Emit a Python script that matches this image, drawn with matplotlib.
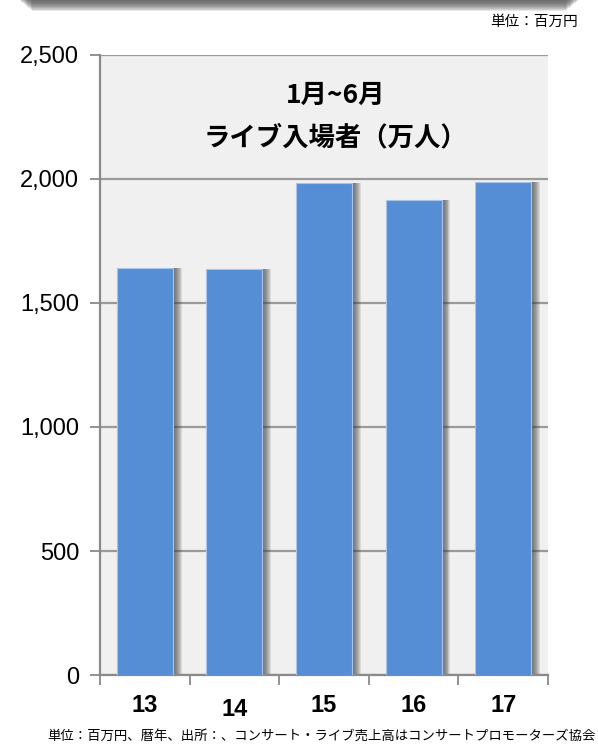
import matplotlib
matplotlib.use("Agg")
import matplotlib.pyplot as plt
import numpy as np
from matplotlib.patches import Rectangle
from matplotlib.transforms import ScaledTranslation

plt.rcParams['font.family'] = ['Liberation Sans', 'Noto Sans CJK JP', 'DejaVu Sans']

categories = ["13", "14", "15", "16", "17"]
values = [1640, 1638, 1985, 1915, 1987]
yticks = [0, 500, 1000, 1500, 2000, 2500]
ytick_labels = ["0", "500", "1,000", "1,500", "2,000", "2,500"]
title_lines = ["1月~6月", "ライブ入場者（万人）"]
unit_text = "単位：百万円"
note_text = "単位：百万円、暦年、出所：、コンサート・ライブ売上高はコンサートプロモーターズ協会"

fig = plt.figure(figsize=(5.98, 7.44), dpi=100)
ax = fig.add_axes([100/598, 69/744, 448/598, 620/744])
ax.set_facecolor('#f0f0f0')

x = np.arange(len(categories))
w = 0.625
# shadow layers (gradient to the right)
n = 9
for i in range(n):
    off = 0.011 * (i + 1)
    ax.bar(x + off, values, width=w, color='#404040', alpha=0.13,
           zorder=2, linewidth=0)
ax.bar(x, values, width=w, color='#558ed5', edgecolor='#a9c4ea',
       linewidth=0.8, zorder=3)

ax.set_xlim(-0.5, 4.5)
ax.set_ylim(0, 2500)
ax.set_yticks(yticks)
ax.set_yticklabels(ytick_labels, fontsize=17)
ax.yaxis.grid(True, color='#9a9a9a', linewidth=1.6, zorder=1)
ax.set_axisbelow(True)
ax.set_xticks(x)
ax.set_xticklabels(categories, fontsize=17, fontweight='bold')
ax.set_xticks(np.arange(-0.5, 5, 1), minor=True)
ax.tick_params(axis='x', which='major', length=0, pad=14)
ax.tick_params(axis='x', which='minor', length=7, color='#8a8a8a', width=1.3)
ax.tick_params(axis='y', length=7, color='#8a8a8a', width=1.3, pad=8)
lab = ax.get_xticklabels()[1]
lab.set_transform(lab.get_transform() + ScaledTranslation(0, -2.5/72, fig.dpi_scale_trans))

for s in ['top', 'right']:
    ax.spines[s].set_visible(False)
for s in ['left', 'bottom']:
    ax.spines[s].set_color('#8a8a8a')
    ax.spines[s].set_linewidth(1.6)

ax.text(0.525, (744-95-69)/620, title_lines[0], transform=ax.transAxes,
        ha='center', va='center', fontsize=19, fontweight='bold',
        family=['Noto Sans CJK JP'])
ax.text(0.525, (744-138-69)/620, title_lines[1], transform=ax.transAxes,
        ha='center', va='center', fontsize=19, fontweight='bold',
        family=['Noto Sans CJK JP'])

# top banner shadow
for i in range(11):
    fig.patches.append(Rectangle((20/598 + i*0.002, 1 - (1 + i)/744),
                                 1 - 40/598 - i*0.004, (1 + i)/744,
                                 transform=fig.transFigure,
                                 color='#505050', alpha=0.14, linewidth=0))

fig.text(578/598, 1 - 22/744, unit_text, ha='right', va='center',
         fontsize=10.5, family=['Noto Sans CJK JP'])
fig.text(596/598, 1 - 736/744, note_text, ha='right', va='center',
         fontsize=9.6, family=['Noto Sans CJK JP'])

fig.savefig('out.png', dpi=100)
